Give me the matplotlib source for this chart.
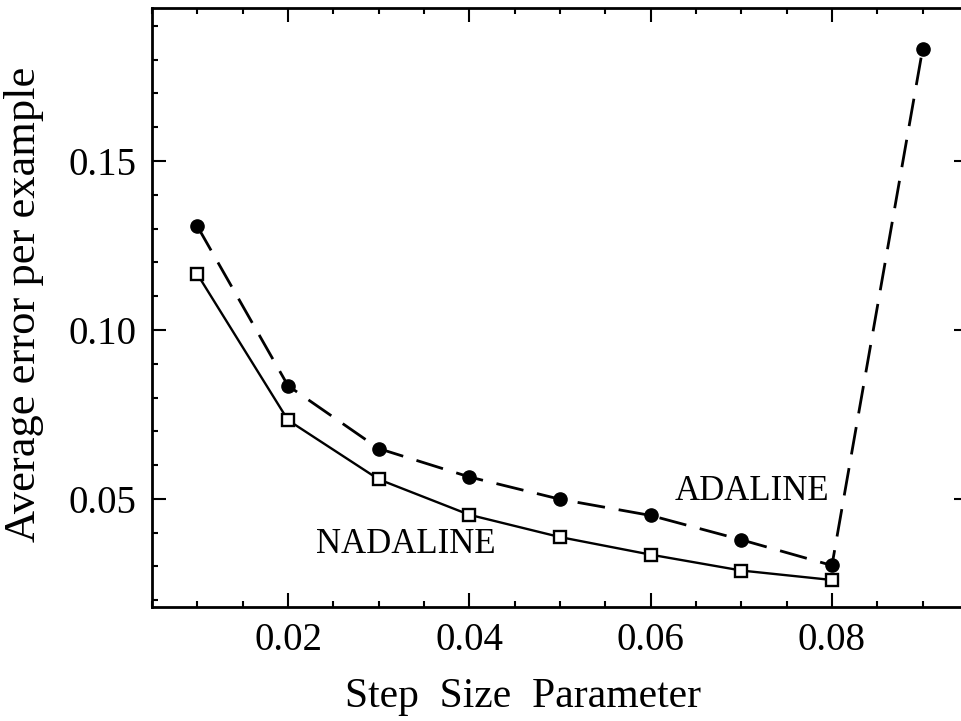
import matplotlib
matplotlib.use('Agg')
import matplotlib.pyplot as plt
from matplotlib.ticker import MultipleLocator, FormatStrFormatter

# step size values and the average error for both learners
step_size = [0.01, 0.02, 0.03, 0.04, 0.05, 0.06, 0.07, 0.08, 0.09]
adaline_err = [0.1307, 0.0835, 0.0649, 0.0565, 0.0499, 0.0451, 0.0379, 0.0303, 0.1831]
nadaline_steps = [0.01, 0.02, 0.03, 0.04, 0.05, 0.06, 0.07, 0.08]
nadaline_err = [0.1165, 0.0733, 0.0558, 0.0453, 0.0387, 0.0335, 0.0288, 0.0260]

x_major = [0.02, 0.04, 0.06, 0.08]
y_major = [0.05, 0.10, 0.15]

plt.rcParams['font.family'] = ['Liberation Serif', 'DejaVu Serif']

fig = plt.figure(figsize=(9.61, 7.21), dpi=100)
# right edge sits just past the picture, as in the scan
ax = fig.add_axes([0.1582, 0.1581, 0.8490, 0.8308])

# ADALINE: dashed with filled circles
ax.plot(step_size, adaline_err, color='black', lw=2.0, ls=(0, (10, 5)),
        marker='o', markersize=9.5, markerfacecolor='black', zorder=3)
# NADALINE: solid with open squares
ax.plot(nadaline_steps, nadaline_err, color='black', lw=1.7, ls='-',
        marker='s', markersize=8, markerfacecolor='white',
        markeredgecolor='black', markeredgewidth=1.7, zorder=4)

ax.text(0.0712, 0.0523, 'ADALINE', fontsize=25, ha='center', va='center')
ax.text(0.0330, 0.0364, 'NADALINE', fontsize=25, ha='center', va='center')

ax.set_xlim(0.005, 0.095)
ax.set_ylim(0.018, 0.1953)

ax.set_xticks(x_major)
ax.set_yticks(y_major)
ax.xaxis.set_major_formatter(FormatStrFormatter('%.2f'))
ax.yaxis.set_major_formatter(FormatStrFormatter('%.2f'))
ax.xaxis.set_minor_locator(MultipleLocator(0.005))
ax.yaxis.set_minor_locator(MultipleLocator(0.01))

ax.tick_params(which='both', direction='in', top=True, right=True,
               width=1.5, labelsize=28, color='black')
ax.tick_params(which='major', length=10, pad=11)
ax.tick_params(which='minor', length=4.5)

for s in ax.spines.values():
    s.set_linewidth(2.0)
ax.spines['right'].set_visible(False)

ax.set_xlabel('Step  Size  Parameter', fontsize=30)
ax.xaxis.set_label_coords(0.455, -0.117)
ax.set_ylabel('Average error per example', fontsize=32)
ax.yaxis.set_label_coords(-0.133, 0.505)

fig.savefig('out.png', dpi=100)
